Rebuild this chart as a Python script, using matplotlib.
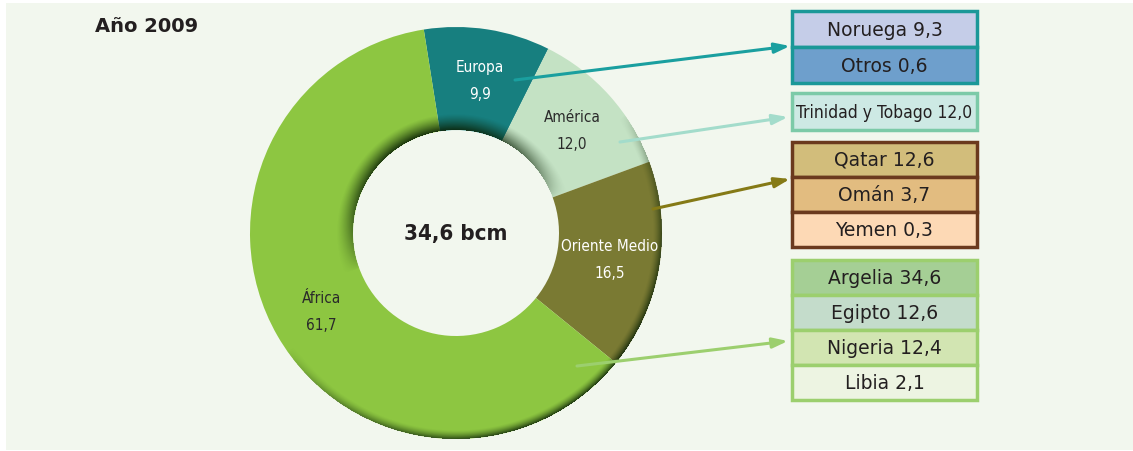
import numpy as np
import matplotlib.pyplot as plt
from matplotlib.patches import Rectangle

W, H = 1133, 452

# regional shares of the donut (%), 2009
regions = ['Europa', 'América', 'Oriente Medio', 'África']
shares = [9.9, 12.0, 16.5, 61.7]
share_labels = ['9,9', '12,0', '16,5', '61,7']
region_colors = ['#177f7f', '#c4e2c4', '#7a7a33', '#8dc641']
label_colors = ['white', '#2a2a2a', 'white', '#2a2a2a']
total_label = '34,6 bcm'
title = 'Año 2009'

# country breakdown boxes
europa_countries = ['Noruega 9,3', 'Otros 0,6']
america_countries = ['Trinidad y Tobago 12,0']
oriente_countries = ['Qatar 12,6', 'Omán 3,7', 'Yemen 0,3']
africa_countries = ['Argelia 34,6', 'Egipto 12,6', 'Nigeria 12,4', 'Libia 2,1']

europa_fills = ['#c5cde8', '#6e9fcc']
america_fills = ['#cde9e4']
oriente_fills = ['#d2bd7b', '#e2bc80', '#fdd9b5']
africa_fills = ['#a5cf95', '#c4dccb', '#d2e5b2', '#edf4e2']


def iy(y):
    # image row -> data y (data y points up)
    return H - y


fig = plt.figure(figsize=(W / 100, H / 100), dpi=100, facecolor='white')
ax = fig.add_axes([0, 0, 1, 1])

cx, cy, R = 456, iy(234), 206
wedges, _ = ax.pie(shares, colors=region_colors, startangle=99, counterclock=False,
                   radius=R, center=(cx, cy),
                   wedgeprops=dict(width=R / 2, linewidth=0))
ax.set_aspect('equal')
ax.axis('off')

# light background panel
ax.add_patch(Rectangle((6, 1), W - 6, iy(4) - 1, facecolor='#f2f7ee', edgecolor='none', zorder=-10))

# bevel shading on the ring
yy, xx = np.mgrid[0:H, 0:W]
px = xx + 0.5 - cx
py = (H - yy - 0.5) - cy
r = np.hypot(px, py) / R
th = np.arctan2(py, px)
outer = np.clip((r - 0.955) / 0.045, 0, 1) ** 1.5 * np.clip(np.cos(th + np.radians(55)), 0, 1) ** 0.7
inner = np.clip((0.58 - r) / 0.08, 0, 1) ** 1.3 * np.clip(np.cos(th - np.radians(110)), 0, 1) ** 0.6
alpha = np.maximum(outer, inner * 1.05) * 0.85
alpha = np.clip(alpha, 0, 0.9)
alpha[(r < 0.5) | (r > 1.0)] = 0
shade = np.zeros((H, W, 4))
shade[..., 0] = 0.04
shade[..., 1] = 0.13
shade[..., 2] = 0.02
shade[..., 3] = alpha
ax.imshow(shade, extent=(0, W, 0, H), origin='upper', zorder=3, interpolation='bilinear')
ax.set_xlim(0, W)
ax.set_ylim(0, H)

# labels inside each wedge
for w, name, val, col in zip(wedges, regions, share_labels, label_colors):
    mid = np.radians((w.theta1 + w.theta2) / 2)
    lx = cx + 0.755 * R * np.cos(mid)
    ly = cy + 0.755 * R * np.sin(mid)
    ax.text(lx, ly + 13, name, color=col, fontsize=11, fontstretch='condensed',
            ha='center', va='center', zorder=5)
    ax.text(lx, ly - 14, val, color=col, fontsize=11, fontstretch='condensed',
            ha='center', va='center', zorder=5)

ax.text(cx, cy, total_label, fontsize=16, fontweight='bold', fontstretch='condensed',
        color='#231f20', ha='center', va='center', zorder=5)
ax.text(95, iy(27), title, fontsize=14, fontweight='bold', color='#231f20',
        ha='left', va='center')


def draw_group(top, row_h, labels, fills, edge, fontsize=13.5, stretch='normal'):
    x0, bw = 792, 185
    for i, (lab, fc) in enumerate(zip(labels, fills)):
        y0 = top + i * row_h
        ax.add_patch(Rectangle((x0, iy(y0 + row_h)), bw, row_h, facecolor=fc,
                               edgecolor=edge, linewidth=2.5, zorder=4))
        ax.text(x0 + bw / 2, iy(y0 + row_h / 2), lab, fontsize=fontsize, fontstretch=stretch,
                color='#231f20', ha='center', va='center', zorder=5)


draw_group(12, 36, europa_countries, europa_fills, '#1a9898')
draw_group(94, 37, america_countries, america_fills, '#7ccaa8', fontsize=12.5, stretch='condensed')
draw_group(143, 35, oriente_countries, oriente_fills, '#6b3a1e')
draw_group(261, 35, africa_countries, africa_fills, '#9ccf6e')

# connector arrows
arrows = [((515, 81), (790, 47), '#1a9f9f'),
          ((620, 143), (788, 118), '#a3dccb'),
          ((653, 210), (790, 180), '#857a16'),
          ((577, 367), (788, 342), '#9ccf6e')]
for (x1, y1), (x2, y2), c in arrows:
    ax.annotate('', xy=(x2, iy(y2)), xytext=(x1, iy(y1)), zorder=6,
                arrowprops=dict(arrowstyle='-|>,head_length=0.9,head_width=0.3',
                                color=c, lw=2.2, shrinkA=0, shrinkB=0))

plt.savefig('out.png', dpi=100, facecolor='white')
